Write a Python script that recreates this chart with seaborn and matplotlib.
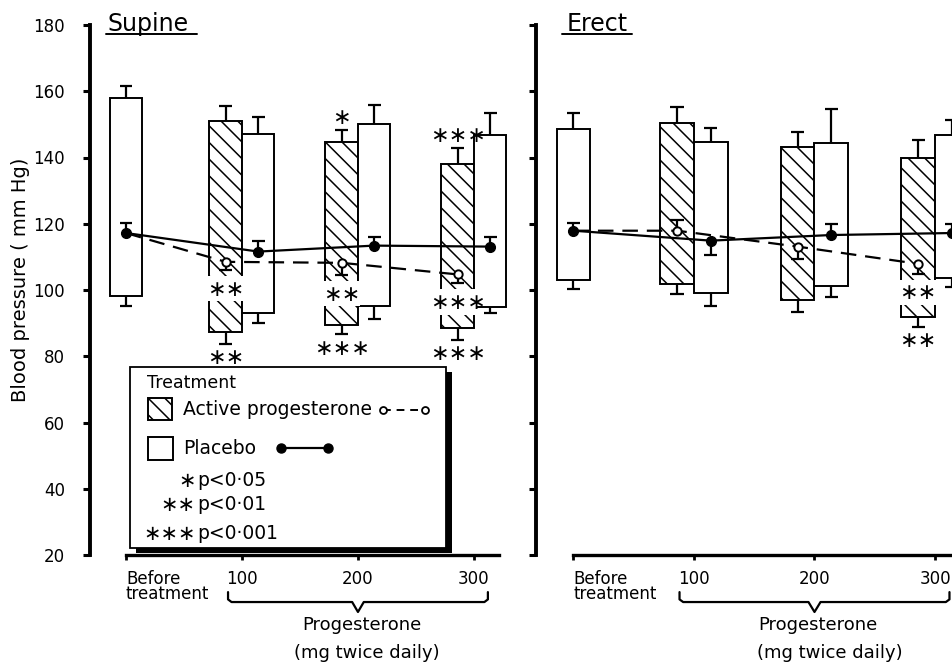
import matplotlib
matplotlib.use("Agg")
import matplotlib.pyplot as plt
from matplotlib.patches import Rectangle
import numpy as np
import pandas as pd
import seaborn as sns

# x positions: 0 = before treatment, 1..3 = progesterone 100/200/300 mg
X_LABELS = ["Before\ntreatment", "100", "200", "300"]
DOSE_POS = [1, 2, 3]
Y_TICKS = [20, 40, 60, 80, 100, 120, 140, 160, 180]

# ---- Supine (mm Hg) ----
SUP_BEFORE_SYS, SUP_BEFORE_SYS_SEM = 158.1, 3.5
SUP_BEFORE_DIA, SUP_BEFORE_DIA_SEM = 98.2, 3.0
SUP_BEFORE_MEAN, SUP_BEFORE_MEAN_SEM = 117.2, 3.1

SUP_ACT_SYS = [151.1, 144.8, 138.0]
SUP_ACT_SYS_SEM = [4.4, 3.5, 4.8]
SUP_ACT_DIA = [87.2, 89.4, 88.6]
SUP_ACT_DIA_SEM = [3.5, 2.8, 3.7]
SUP_ACT_MEAN = [108.5, 108.2, 104.7]
SUP_ACT_MEAN_SEM = [-2.5, -3.7, -2.7]  # sign = side the bar is drawn on

SUP_PL_SYS = [147.0, 150.2, 146.8]
SUP_PL_SYS_SEM = [5.1, 5.6, 6.5]
SUP_PL_DIA = [93.1, 95.2, 95.0]
SUP_PL_DIA_SEM = [3.2, 4.0, 2.0]
SUP_PL_MEAN = [111.6, 113.4, 113.1]
SUP_PL_MEAN_SEM = [3.3, 2.5, 2.8]

SUP_SIG_SYS = ["", "*", "***"]
SUP_SIG_MEAN = ["**", "**", "***"]
SUP_SIG_DIA = ["**", "***", "***"]

# ---- Erect (mm Hg) ----
ERE_BEFORE_SYS, ERE_BEFORE_SYS_SEM = 148.5, 4.8
ERE_BEFORE_DIA, ERE_BEFORE_DIA_SEM = 103.0, 2.8
ERE_BEFORE_MEAN, ERE_BEFORE_MEAN_SEM = 117.9, 2.4

ERE_ACT_SYS = [150.3, 143.3, 140.0]
ERE_ACT_SYS_SEM = [4.9, 4.3, 5.3]
ERE_ACT_DIA = [101.8, 97.0, 91.7]
ERE_ACT_DIA_SEM = [3.0, 3.6, 2.8]
ERE_ACT_MEAN = [117.9, 113.1, 107.9]
ERE_ACT_MEAN_SEM = [3.2, -3.8, -3.0]

ERE_PL_SYS = [144.6, 144.3, 146.8]
ERE_PL_SYS_SEM = [4.2, 10.3, 4.5]
ERE_PL_DIA = [99.0, 101.2, 103.6]
ERE_PL_DIA_SEM = [3.8, 3.2, 2.7]
ERE_PL_MEAN = [114.9, 116.6, 117.2]
ERE_PL_MEAN_SEM = [-4.3, 3.3, 2.6]

ERE_SIG_SYS = ["", "", ""]
ERE_SIG_MEAN = ["", "", "**"]
ERE_SIG_DIA = ["", "", "**"]

BAR_W = 0.28
CAP = 0.055
HATCH = "\\\\"
STAR_SIZE = 16
STAR_AXIS = 0.31  # height of the star glyph centre above the baseline, in em
SIG_GAP = 4.0
MEAN_SIG_GAP = 5.6
GAP_HEIGHT = 7.6


def star_text(s):
    # asterisk operator: same star, but centred on the text's middle
    return s.replace("*", "\u2217")


def error_stub(ax, x, start, delta, zorder=3):
    x = np.atleast_1d(np.asarray(x, float))
    start = np.atleast_1d(np.asarray(start, float))
    end = start + np.atleast_1d(np.asarray(delta, float))
    ax.vlines(x, start, end, colors="black", linewidth=1.6, zorder=zorder)
    ax.hlines(end, x - CAP, x + CAP, colors="black", linewidth=1.6, zorder=zorder)


def floating_bars(ax, x, sys, sys_sem, dia, dia_sem, hatch=None):
    sys = np.atleast_1d(np.asarray(sys, float))
    dia = np.atleast_1d(np.asarray(dia, float))
    ax.bar(x, sys - dia, bottom=dia, width=BAR_W, facecolor="white",
           edgecolor="black", linewidth=1.4, hatch=hatch, zorder=2)
    error_stub(ax, x, sys, sys_sem)
    error_stub(ax, x, dia, -np.asarray(dia_sem, float))


def stars(ax, x, y, text, size=STAR_SIZE, ha="center"):
    if not text:
        return
    ax.annotate(star_text(text), (x, y), xytext=(0, -STAR_AXIS * size),
                textcoords="offset points", ha=ha, va="baseline", fontsize=size,
                zorder=6, annotation_clip=False)


def draw_panel(ax, before, act, pl, sig):
    act_x = np.array(DOSE_POS) - BAR_W / 2
    pl_x = np.array(DOSE_POS) + BAR_W / 2

    floating_bars(ax, [0], before["sys"], before["sys_sem"], before["dia"], before["dia_sem"])
    floating_bars(ax, act_x, act["sys"], act["sys_sem"], act["dia"], act["dia_sem"], HATCH)
    floating_bars(ax, pl_x, pl["sys"], pl["sys_sem"], pl["dia"], pl["dia_sem"])

    # mean pressure lines
    error_stub(ax, [0], before["mean"], before["mean_sem"], zorder=3.5)
    error_stub(ax, act_x, act["mean"], act["mean_sem"], zorder=3.5)
    error_stub(ax, pl_x, pl["mean"], pl["mean_sem"], zorder=3.5)

    act_line = pd.DataFrame({"x": np.r_[0, act_x], "y": np.r_[before["mean"], act["mean"]]})
    pl_line = pd.DataFrame({"x": np.r_[0, pl_x], "y": np.r_[before["mean"], pl["mean"]]})
    sns.lineplot(data=act_line, x="x", y="y", ax=ax, color="black", linewidth=1.6,
                 linestyle=(0, (7, 4)), marker="o", markersize=6, markerfacecolor="white",
                 markeredgecolor="black", markeredgewidth=1.4, markevery=[1, 2, 3],
                 sort=False, errorbar=None, legend=False, zorder=4)
    sns.lineplot(data=pl_line, x="x", y="y", ax=ax, color="black", linewidth=1.6,
                 marker="o", markersize=7, markerfacecolor="black", markeredgecolor="black",
                 markeredgewidth=1, sort=False, errorbar=None, legend=False, zorder=4.5)

    # significance markers on the active-treatment bars
    for i, x in enumerate(act_x):
        top = act["sys"][i] + act["sys_sem"][i] + SIG_GAP
        if pl["sys"][i] > top and len(sig["sys"][i]) > 2:
            # wide label next to a taller placebo bar: keep it left of that bar
            stars(ax, x + BAR_W / 2, top, sig["sys"][i], ha="right")
        else:
            stars(ax, x, top, sig["sys"][i])
        stars(ax, x, act["dia"][i] - act["dia_sem"][i] - SIG_GAP, sig["dia"][i])
        if sig["mean"][i]:
            tip = act["mean"][i] + min(act["mean_sem"][i], 0)
            y = tip - MEAN_SIG_GAP
            ax.bar(x, GAP_HEIGHT, bottom=y - GAP_HEIGHT / 2, width=BAR_W * 1.1,
                   color="white", linewidth=0, zorder=2.5)
            stars(ax, x, y, sig["mean"][i])

    ax.set_xlabel("")
    ax.set_ylabel("")
    ax.set_ylim(20, 180)
    ax.set_yticks(Y_TICKS)
    ax.set_xticks(range(len(X_LABELS)), X_LABELS)
    ax.tick_params(axis="y", direction="out", length=5, width=2.2, pad=13, labelsize=12)
    ax.tick_params(axis="x", direction="out", length=3.5, width=2, pad=7, labelsize=12)
    first = ax.get_xticklabels()[0]
    first.set_ha("left")
    first.set_linespacing(0.85)
    sns.despine(ax=ax)
    ax.spines["left"].set_linewidth(2.8)
    ax.spines["bottom"].set_linewidth(2.4)

    # brace under the dose ticks
    x0, x1, xc = DOSE_POS[0] - 0.12, DOSE_POS[-1] + 0.12, DOSE_POS[1]
    yb, ye, yt = 5.8, 8.8, 2.8
    bx = [x0, x0, x0 + 0.03, xc - 0.05, xc, xc + 0.05, x1 - 0.03, x1, x1]
    by = [ye, yb + 0.8, yb, yb, yt, yb, yb, yb + 0.8, ye]
    ax.plot(bx, by, color="black", linewidth=1.6, clip_on=False)
    ax.text(xc + 0.03, -1.1, "Progesterone", ha="center", va="center", fontsize=13, clip_on=False)


def draw_legend(ax):
    ax.add_patch(Rectangle((0.086, 20.6), 2.725, 54.7, facecolor="black", edgecolor="none", zorder=7))
    ax.add_patch(Rectangle((0.034, 22.1), 2.725, 54.7, facecolor="white", edgecolor="black",
                           linewidth=1.3, zorder=7.5))
    kw = dict(va="center", fontsize=13.5, zorder=8)
    ax.text(0.18, 72.0, "Treatment", va="center", fontsize=12.5, zorder=8)
    ax.add_patch(Rectangle((0.19, 60.8), 0.207, 6.6, facecolor="white", edgecolor="black",
                           hatch=HATCH, linewidth=1.4, zorder=8))
    ax.text(0.49, 63.8, "Active progesterone", **kw)
    ax.plot([2.216, 2.578], [63.8, 63.8], color="black", linewidth=1.4, linestyle=(0, (4, 3)),
            marker="o", markersize=5, markerfacecolor="white", markeredgewidth=1.3, zorder=8)
    ax.add_patch(Rectangle((0.19, 48.7), 0.215, 6.9, facecolor="white", edgecolor="black",
                           linewidth=1.4, zorder=8))
    ax.text(0.49, 52.3, "Placebo", **kw)
    ax.plot([1.336, 1.741], [52.3, 52.3], color="black", linewidth=1.6, marker="o",
            markersize=6.5, zorder=8)
    for y, s, p in [(42.6, "*", "p<0·05"), (35.1, "**", "p<0·01"), (26.6, "***", "p<0·001")]:
        ax.annotate(star_text(s), (0.6, y), xytext=(0, -STAR_AXIS * 15), textcoords="offset points",
                    ha="right", va="baseline", fontsize=15, zorder=8)
        ax.text(0.612, y, p, **kw)


def underline(ax, text, left=0.02, right=0.07, y=177.3):
    bb = text.get_window_extent().transformed(ax.transData.inverted())
    ax.plot([bb.x0 - left, bb.x1 + right], [y, y], color="black", linewidth=1.4, clip_on=False)


def main() -> None:
    sns.set_theme(style="ticks", rc={
        "axes.edgecolor": "black", "text.color": "black", "xtick.color": "black",
        "ytick.color": "black", "axes.labelcolor": "black", "hatch.linewidth": 1.1,
    })
    plt.rcParams["font.family"] = ["DejaVu Sans"]

    fig = plt.figure(figsize=(9.52, 6.67), dpi=100)
    ax1 = fig.add_axes([90 / 952, 112 / 667, 419 / 952, 530 / 667])
    ax2 = fig.add_axes([536 / 952, 112 / 667, 416 / 952, 530 / 667])

    draw_panel(
        ax1,
        dict(sys=SUP_BEFORE_SYS, sys_sem=SUP_BEFORE_SYS_SEM, dia=SUP_BEFORE_DIA,
             dia_sem=SUP_BEFORE_DIA_SEM, mean=SUP_BEFORE_MEAN, mean_sem=SUP_BEFORE_MEAN_SEM),
        dict(sys=SUP_ACT_SYS, sys_sem=SUP_ACT_SYS_SEM, dia=SUP_ACT_DIA, dia_sem=SUP_ACT_DIA_SEM,
             mean=SUP_ACT_MEAN, mean_sem=SUP_ACT_MEAN_SEM),
        dict(sys=SUP_PL_SYS, sys_sem=SUP_PL_SYS_SEM, dia=SUP_PL_DIA, dia_sem=SUP_PL_DIA_SEM,
             mean=SUP_PL_MEAN, mean_sem=SUP_PL_MEAN_SEM),
        dict(sys=SUP_SIG_SYS, mean=SUP_SIG_MEAN, dia=SUP_SIG_DIA),
    )
    draw_panel(
        ax2,
        dict(sys=ERE_BEFORE_SYS, sys_sem=ERE_BEFORE_SYS_SEM, dia=ERE_BEFORE_DIA,
             dia_sem=ERE_BEFORE_DIA_SEM, mean=ERE_BEFORE_MEAN, mean_sem=ERE_BEFORE_MEAN_SEM),
        dict(sys=ERE_ACT_SYS, sys_sem=ERE_ACT_SYS_SEM, dia=ERE_ACT_DIA, dia_sem=ERE_ACT_DIA_SEM,
             mean=ERE_ACT_MEAN, mean_sem=ERE_ACT_MEAN_SEM),
        dict(sys=ERE_PL_SYS, sys_sem=ERE_PL_SYS_SEM, dia=ERE_PL_DIA, dia_sem=ERE_PL_DIA_SEM,
             mean=ERE_PL_MEAN, mean_sem=ERE_PL_MEAN_SEM),
        dict(sys=ERE_SIG_SYS, mean=ERE_SIG_MEAN, dia=ERE_SIG_DIA),
    )

    ax1.set_xlim(-0.31, 3.302)
    ax2.set_xlim(-0.311, 3.141)
    ax1.spines["bottom"].set_bounds(0, 3.22)
    ax2.spines["bottom"].set_bounds(0, 3.141)
    ax2.tick_params(axis="y", labelleft=False)

    ax1.text(2.08, -9.6, "(mg twice daily)", ha="center", va="center", fontsize=13, clip_on=False)
    ax2.text(2.13, -9.6, "(mg twice daily)", ha="center", va="center", fontsize=13, clip_on=False)

    ax1.set_ylabel("Blood pressure ( mm Hg)", fontsize=14)
    ax1.yaxis.set_label_coords(-0.143, 0.52)

    draw_legend(ax1)

    t1 = ax1.text(-0.155, 178.2, "Supine", fontsize=17, va="baseline", clip_on=False)
    t2 = ax2.text(-0.054, 178.2, "Erect", fontsize=17, va="baseline", clip_on=False)
    fig.canvas.draw()
    underline(ax1, t1)
    underline(ax2, t2, left=0.04, right=0.03)

    fig.savefig("out.png", dpi=100)
    plt.close(fig)


if __name__ == "__main__":
    main()
